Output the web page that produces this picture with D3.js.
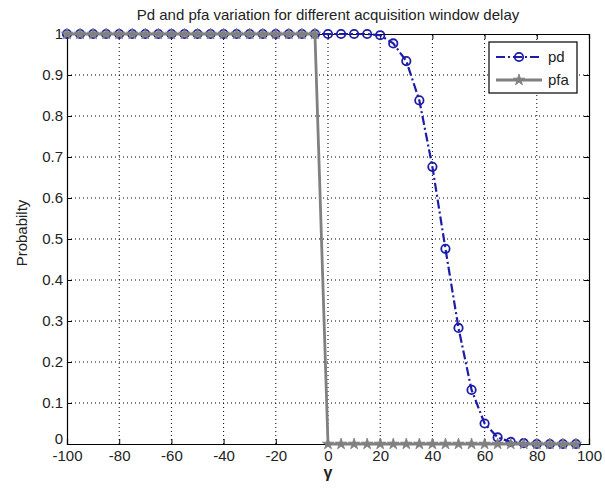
<!DOCTYPE html>
<html>
<head>
<meta charset="utf-8">
<script src="https://cdn.jsdelivr.net/npm/d3@7"></script>
<style>
  body { margin: 0; background: #fff; }
  svg { display: block; font-family: "Liberation Sans", Arial, sans-serif; }
  .grid line { stroke: #000; stroke-width: 1; stroke-dasharray: 1 3; }
  .axis path { stroke: #000; }
  .axis line { stroke: #000; }
  .axis text { font-size: 15px; fill: #222; font-family: "Liberation Sans", Arial, sans-serif; }
</style>
</head>
<body>
<div id="chart"></div>
<script>
// acquisition window delay (gamma)
const gammaValues = [-100, -95, -90, -85, -80, -75, -70, -65, -60, -55,
                     -50, -45, -40, -35, -30, -25, -20, -15, -10, -5,
                     0, 5, 10, 15, 20, 25, 30, 35, 40, 45,
                     50, 55, 60, 65, 70, 75, 80, 85, 90, 95];
const pdValues = [1, 1, 1, 1, 1, 1, 1, 1, 1, 1,
                  1, 1, 1, 1, 1, 1, 1, 1, 1, 1,
                  1, 1, 1, 1, 0.997, 0.977, 0.934, 0.838, 0.676, 0.476,
                  0.283, 0.132, 0.05, 0.016, 0.005, 0.002, 0, 0, 0, 0];
const pfaValues = [1, 1, 1, 1, 1, 1, 1, 1, 1, 1,
                   1, 1, 1, 1, 1, 1, 1, 1, 1, 1,
                   0, 0, 0, 0, 0, 0, 0, 0, 0, 0,
                   0, 0, 0, 0, 0, 0, 0, 0, 0, 0];
const xTicks = [-100, -80, -60, -40, -20, 0, 20, 40, 60, 80, 100];
const yTicks = [0, 0.1, 0.2, 0.3, 0.4, 0.5, 0.6, 0.7, 0.8, 0.9, 1];

const width = 605;
const height = 491;
const margin = { top: 34, right: 16, bottom: 47, left: 67 };
const pdColor = "#1c1ca8";
const pfaColor = "#808080";

const svg = d3.select("#chart").append("svg")
    .attr("width", width)
    .attr("height", height);

const x = d3.scaleLinear().domain([-100, 100]).range([margin.left, width - margin.right]);
const y = d3.scaleLinear().domain([0, 1]).range([height - margin.bottom, margin.top]);

// dotted grid
svg.append("g").attr("class", "grid")
    .selectAll("line")
    .data(xTicks.slice(1, -1))
    .enter().append("line")
    .attr("x1", d => x(d)).attr("x2", d => x(d))
    .attr("y1", y(0)).attr("y2", y(1));
svg.append("g").attr("class", "grid")
    .selectAll("line")
    .data(yTicks.slice(1, -1))
    .enter().append("line")
    .attr("x1", x(-100)).attr("x2", x(100))
    .attr("y1", d => y(d)).attr("y2", d => y(d));

// axes, ticks pointing inward on all four sides (plain hyphen for negatives)
svg.append("g").attr("class", "axis")
    .attr("transform", `translate(0,${y(0)})`)
    .call(d3.axisBottom(x).tickValues(xTicks).tickSize(-5).tickPadding(6).tickFormat(d => String(d)));
svg.append("g").attr("class", "axis")
    .attr("transform", `translate(0,${y(1)})`)
    .call(d3.axisTop(x).tickValues(xTicks).tickSize(-5).tickFormat(""));
const yAxis = svg.append("g").attr("class", "axis")
    .attr("transform", `translate(${x(-100)},0)`)
    .call(d3.axisLeft(y).tickValues(yTicks).tickSize(-5).tickPadding(4).tickFormat(d => String(d)));
// lift the "0" label a little so it sits above "-100", as in the original
yAxis.selectAll(".tick text").filter(d => d === 0).attr("dy", "-0.05em");
svg.append("g").attr("class", "axis")
    .attr("transform", `translate(${x(100)},0)`)
    .call(d3.axisRight(y).tickValues(yTicks).tickSize(-5).tickFormat(""));
svg.selectAll(".axis .domain").attr("stroke-width", 1.2);

const pdData = gammaValues.map((g, i) => ({ g: g, v: pdValues[i] }));
const pfaData = gammaValues.map((g, i) => ({ g: g, v: pfaValues[i] }));

const line = d3.line().x(d => x(d.g)).y(d => y(d.v));

// pd: dash-dot blue with open circles
svg.append("path")
    .datum(pdData)
    .attr("fill", "none")
    .attr("stroke", pdColor)
    .attr("stroke-width", 2.2)
    .attr("stroke-dasharray", "9 3 2 3")
    .attr("d", line);
svg.append("g").selectAll("circle")
    .data(pdData)
    .enter().append("circle")
    .attr("cx", d => x(d.g))
    .attr("cy", d => y(d.v))
    .attr("r", 4.2)
    .attr("fill", "none")
    .attr("stroke", pdColor)
    .attr("stroke-width", 1.8);

// pfa: solid gray with stars
svg.append("path")
    .datum(pfaData)
    .attr("fill", "none")
    .attr("stroke", pfaColor)
    .attr("stroke-width", 2.8)
    .attr("d", line);
const star = d3.symbol().type(d3.symbolStar).size(40);
svg.append("g").selectAll("path")
    .data(pfaData)
    .enter().append("path")
    .attr("transform", d => `translate(${x(d.g)},${y(d.v)})`)
    .attr("d", star)
    .attr("fill", pfaColor)
    .attr("stroke", pfaColor)
    .attr("stroke-width", 0.8);

// title and axis labels
svg.append("text")
    .attr("x", (x(-100) + x(100)) / 2)
    .attr("y", 20)
    .attr("text-anchor", "middle")
    .attr("font-size", 15)
    .attr("fill", "#222")
    .text("Pd and pfa variation for different acquisition window delay");
svg.append("text")
    .attr("transform", `translate(27,${(y(0) + y(1)) / 2 - 6}) rotate(-90)`)
    .attr("text-anchor", "middle")
    .attr("font-size", 15)
    .attr("fill", "#222")
    .text("Probabilty");
svg.append("text")
    .attr("x", x(0))
    .attr("y", 478)
    .attr("text-anchor", "middle")
    .attr("font-size", 16)
    .attr("font-weight", "bold")
    .attr("fill", "#222")
    .text("γ");

// legend
const legend = svg.append("g").attr("transform", "translate(489,42)");
legend.append("rect")
    .attr("width", 88).attr("height", 51)
    .attr("fill", "#fff").attr("stroke", "#000").attr("stroke-width", 1.2);
const items = [
    { name: "pd", color: pdColor, dash: "9 3 2 3", width: 2.2 },
    { name: "pfa", color: pfaColor, dash: null, width: 2.8 }
];
items.forEach((it, i) => {
    const ly = 15 + i * 23;
    legend.append("line")
        .attr("x1", 7).attr("x2", 53)
        .attr("y1", ly).attr("y2", ly)
        .attr("stroke", it.color)
        .attr("stroke-width", it.width)
        .attr("stroke-dasharray", it.dash);
    if (it.name === "pd") {
        legend.append("circle")
            .attr("cx", 30).attr("cy", ly).attr("r", 4.2)
            .attr("fill", "none").attr("stroke", it.color).attr("stroke-width", 1.8);
    } else {
        legend.append("path")
            .attr("transform", `translate(30,${ly})`)
            .attr("d", star)
            .attr("fill", it.color).attr("stroke", it.color).attr("stroke-width", 0.8);
    }
    legend.append("text")
        .attr("x", 59).attr("y", ly + 5)
        .attr("font-size", 15)
        .attr("fill", "#222")
        .text(it.name);
});
</script>
</body>
</html>
